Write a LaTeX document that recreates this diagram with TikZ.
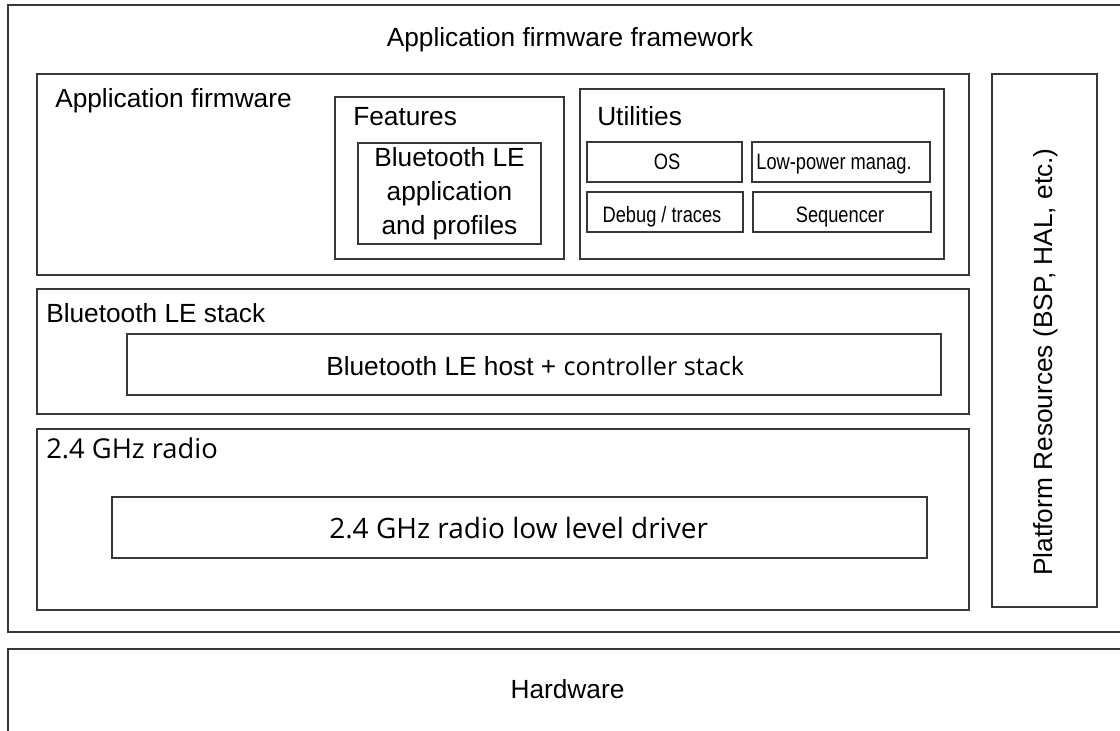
\documentclass[tikz,border=0pt]{standalone}
\usepackage{fontspec}
\setmainfont{Liberation Sans}
\newfontfamily\calfont{Open Sans}
\newfontfamily\narrowfont[FakeStretch=0.82]{Liberation Sans}
\newcommand\mybox[5]{\node[box, minimum width={0.75pt*(#4-#2)}, minimum height={0.75pt*(#5-#3)}] (#1) at ({(#2+#4)/2},{(#3+#5)/2}) {};}
\begin{document}
\begin{tikzpicture}[x=0.75pt,y=-0.75pt,
  box/.style={draw=black!78, line width=1pt, inner sep=0pt, outer sep=0pt},
  lbl/.style={inner sep=0pt, text=black, font=\fontsize{19.7}{23.6}\selectfont},
  small/.style={inner sep=0pt, text=black, font=\narrowfont\fontsize{16.7}{20}\selectfont},
  cal/.style={inner sep=0pt, text=black}]
\clip (0,0) rectangle (1120,731);
\fill[white] (0,0) rectangle (1120,731);
% boxes
\mybox{frame}{8}{5}{1135}{632}
\mybox{hw}{8}{649}{1135}{760}
\mybox{appfw}{37}{74}{969}{275}
\mybox{feat}{335}{97}{564}{259}
\mybox{bleapp}{358}{143}{541}{244}
\mybox{util}{580}{89}{944}{259}
\mybox{os}{587}{142}{742}{182}
\mybox{lp}{752}{142}{930}{182}
\mybox{dbg}{587}{192}{743}{232}
\mybox{seq}{753}{192}{931}{232}
\mybox{plat}{992}{74}{1097}{607}
\mybox{blestack}{37}{289}{969}{414}
\mybox{blehost}{127}{334}{941}{395}
\mybox{radio}{37}{429}{969}{610}
\mybox{driver}{112}{497}{927}{558}
% labels
\node[lbl, anchor=base] (tframe) at (570,47) {Application firmware framework};
\node[lbl, anchor=base west] (tappfw) at (55,108) {Application firmware};
\node[lbl, anchor=base west] (tfeat) at (353,126) {Features};
\node[lbl, align=center, font=\fontsize{19.7}{25.5}\selectfont] (tbleapp) at (449.5,194) {Bluetooth LE\\application\\and profiles};
\node[lbl, anchor=base west] (tutil) at (597,126) {Utilities};
\node[small, anchor=base] (tos) at (667,170) {OS};
\node[small, anchor=base] (tlp) at (834,170) {Low-power manag.};
\node[small, anchor=base] (tdbg) at (662,222) {Debug / traces};
\node[small, anchor=base] (tseq) at (840,222) {Sequencer};
\node[lbl, rotate=90, anchor=base] (tplat) at (1052,362) {Platform Resources (BSP, HAL, etc.)};
\node[lbl, anchor=base west] (tblestack) at (46,322) {Bluetooth LE stack};
\node[lbl, anchor=base west] (tblehost) at (326,375) {Bluetooth LE host + {\calfont\fontsize{18.9}{22}\selectfont controller stack}};
\node[cal, anchor=base west, font=\calfont\fontsize{20.5}{24}\selectfont] (tradio) at (46,458) {2.4 GHz radio};
\node[cal, anchor=base west, font=\calfont\fontsize{21}{25}\selectfont] (tdriver) at (329,538) {2.4 GHz radio low level driver};
\node[lbl, anchor=base] (thw) at (567.5,698) {Hardware};
\end{tikzpicture}
\end{document}
